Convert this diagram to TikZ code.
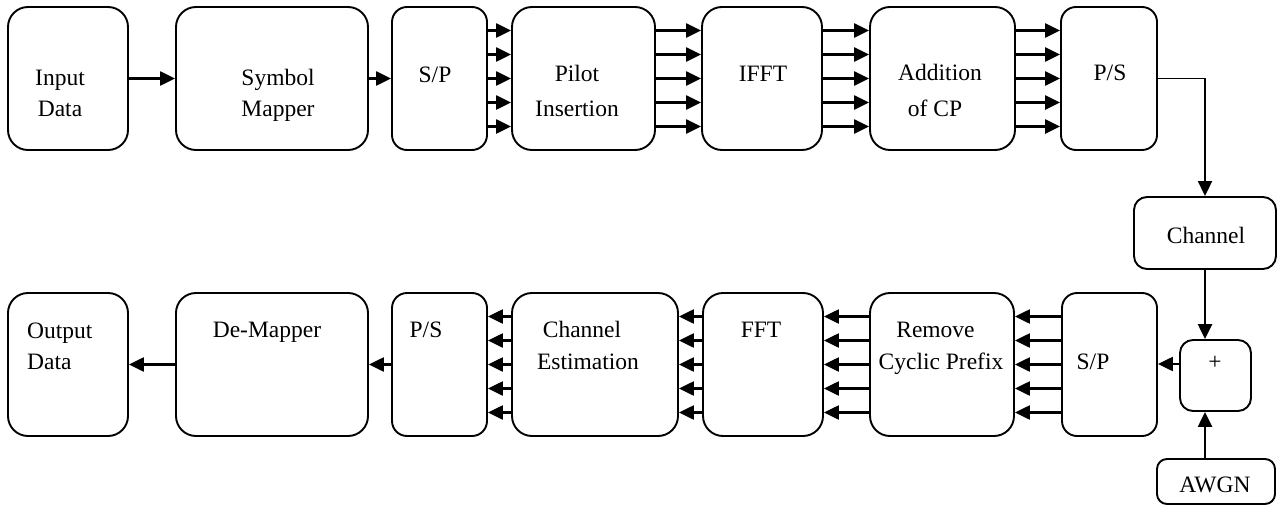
\documentclass[tikz,border=0pt]{standalone}
\usepackage{fontspec}
\setmainfont{Liberation Serif}
\usetikzlibrary{arrows.meta,calc}
\begin{document}
\begin{tikzpicture}[x=1pt,y=-1pt,
  box/.style={draw,line width=1.9pt,rounded corners=20pt,inner sep=0pt},
  arr/.style={line width=2.4pt,-{Triangle[length=15pt,width=14pt]}},
  txt/.style={font=\fontsize{23.5}{28}\selectfont,anchor=base,inner sep=0pt}]
\useasboundingbox (0,0) rectangle (1277,506);
% top row
\node[box,minimum width=120pt,minimum height=143pt] (in) at (68,78.5) {};
\node[box,minimum width=192pt,minimum height=143pt] (map) at (272,78.5) {};
\node[box,minimum width=95pt,minimum height=143pt,rounded corners=15pt] (sp1) at (439.5,78.5) {};
\node[box,minimum width=143pt,minimum height=143pt] (pilot) at (583.5,78.5) {};
\node[box,minimum width=120pt,minimum height=143pt] (ifft) at (762,78.5) {};
\node[box,minimum width=145pt,minimum height=143pt] (acp) at (942.5,78.5) {};
\node[box,minimum width=96pt,minimum height=143pt,rounded corners=15pt] (ps1) at (1109,78.5) {};
% right column
\node[box,minimum width=142pt,minimum height=72pt,rounded corners=13pt] (chan) at (1205,233) {};
\node[box,minimum width=71pt,minimum height=71pt,rounded corners=13pt] (plus) at (1215.5,375.5) {};
\node[box,minimum width=118pt,minimum height=45pt,rounded corners=10pt] (awgn) at (1216,481.5) {};
% bottom row
\node[box,minimum width=120pt,minimum height=143pt] (out) at (68,364.5) {};
\node[box,minimum width=192pt,minimum height=143pt] (dmap) at (272,364.5) {};
\node[box,minimum width=95pt,minimum height=143pt,rounded corners=15pt] (ps2) at (439.5,364.5) {};
\node[box,minimum width=166pt,minimum height=143pt] (ce) at (595,364.5) {};
\node[box,minimum width=120pt,minimum height=143pt] (fft) at (763,364.5) {};
\node[box,minimum width=144pt,minimum height=143pt] (rcp) at (942,364.5) {};
\node[box,minimum width=95pt,minimum height=143pt,rounded corners=15pt] (sp2) at (1109.5,364.5) {};
% texts
\node[txt] (t1a) at (60,85) {Input};
\node[txt] (t1b) at (60,116) {Data};
\node[txt] (t2a) at (278,85) {Symbol};
\node[txt] (t2b) at (278,116) {Mapper};
\node[txt] (t3) at (435,82) {S/P};
\node[txt] (t4a) at (577,81) {Pilot};
\node[txt] (t4b) at (577,116) {Insertion};
\node[txt] (t5) at (763,81) {IFFT};
\node[txt] (t6a) at (940,80) {Addition};
\node[txt] (t6b) at (935,116) {of CP};
\node[txt] (t7) at (1110,80) {P/S};
\node[txt] (t8) at (1206,243) {Channel};
\node[txt] (t9) at (1215,369) {+};
\node[txt] (t10) at (1215,492) {AWGN};
\node[txt,anchor=base west] (t11a) at (27,338) {Output};
\node[txt,anchor=base west] (t11b) at (27,369) {Data};
\node[txt] (t12) at (267,337) {De-Mapper};
\node[txt] (t13) at (426,337) {P/S};
\node[txt] (t14a) at (582,337) {Channel};
\node[txt] (t14b) at (588,369) {Estimation};
\node[txt] (t15) at (761,337) {FFT};
\node[txt] (t16a) at (935.5,337) {Remove};
\node[txt] (t16b) at (941,369) {Cyclic Prefix};
\node[txt] (t17) at (1093,369) {S/P};
% connectors top
\draw[arr] (in.east) -- (map.west);
\draw[arr] (map.east) -- (sp1.west);
\foreach \o in {-48,-24,0,24,48}{
  \draw[arr] ($(sp1.east)+(0,\o)$) -- ($(pilot.west)+(0,\o)$);
  \draw[arr] ($(pilot.east)+(0,\o)$) -- ($(ifft.west)+(0,\o)$);
  \draw[arr] ($(ifft.east)+(0,\o)$) -- ($(acp.west)+(0,\o)$);
  \draw[arr] ($(acp.east)+(0,\o)$) -- ($(ps1.west)+(0,\o)$);
  \draw[arr] ($(sp2.west)+(0,\o)$) -- ($(rcp.east)+(0,\o)$);
  \draw[arr] ($(rcp.west)+(0,\o)$) -- ($(fft.east)+(0,\o)$);
  \draw[arr] ($(fft.west)+(0,\o)$) -- ($(ce.east)+(0,\o)$);
  \draw[arr] ($(ce.west)+(0,\o)$) -- ($(ps2.east)+(0,\o)$);
}
\draw[arr,line width=1.9pt] (ps1.east) -| (chan.north);
\draw[arr] (chan.south) -- (chan.south |- plus.north);
\draw[arr] (awgn.north -| chan.south) -- (plus.south -| chan.south);
\draw[arr] ($(plus.west)+(0,-11.5)$) -- ($(sp2.east)+(0,-0.5)$);
\draw[arr] (ps2.west) -- (dmap.east);
\draw[arr] (dmap.west) -- (out.east);
\end{tikzpicture}
\end{document}
